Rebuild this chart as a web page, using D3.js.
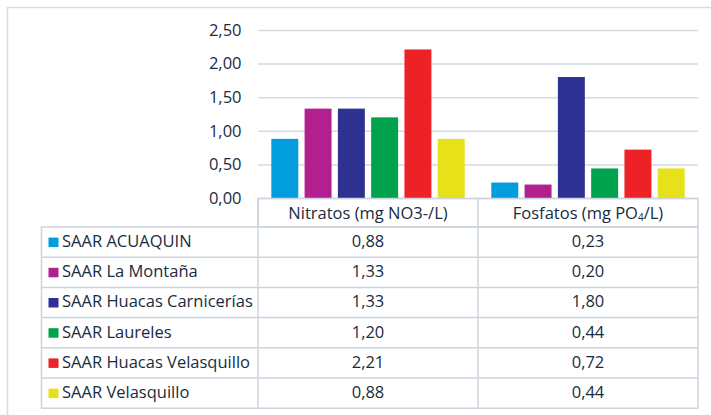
<!DOCTYPE html>
<html>
<head>
<meta charset="utf-8">
<script src="https://cdn.jsdelivr.net/npm/d3@7"></script>
<style>
  html, body { margin: 0; padding: 0; background: #fff; }
  svg { display: block; }
  text { font-family: "Open Sans", Lato, sans-serif; fill: #182c3e; }
</style>
</head>
<body>
<svg id="chart" width="711" height="415"></svg>
<script>
// Parameters measured per station
const categories = ["Nitratos (mg NO3-/L)", "Fosfatos (mg PO₄/L)"];
const series = [
  "SAAR ACUAQUIN",
  "SAAR La Montaña",
  "SAAR Huacas Carnicerías",
  "SAAR Laureles",
  "SAAR Huacas Velasquillo",
  "SAAR Velasquillo"
];
const nitratos = [0.88, 1.33, 1.33, 1.20, 2.21, 0.88];
const fosfatos = [0.23, 0.20, 1.80, 0.44, 0.72, 0.44];
const colors = ["#019ddd", "#b21f8f", "#2e3192", "#00a24d", "#ec2227", "#e7e11a"];
const yTicks = [0, 0.5, 1.0, 1.5, 2.0, 2.5];

const values = [nitratos, fosfatos];
const fmt = v => d3.format(".2f")(v).replace(".", ",");
const textSize = 16.5;

const svg = d3.select("#chart");

// Outer chart frame (open on the right and bottom)
svg.append("path")
  .attr("d", "M7.5,415 V7.5 H711")
  .attr("fill", "none")
  .attr("stroke", "#d5dde5")
  .attr("stroke-width", 1.5);

const plot = { left: 258, right: 698, top: 30, bottom: 198 };

const y = d3.scaleLinear().domain([0, 2.5]).range([plot.bottom, plot.top]);
const x0 = d3.scaleBand().domain(categories).range([plot.left, plot.right]);
const x1 = d3.scaleBand().domain(series).range([0, x0.bandwidth()])
  .paddingInner(0.19).paddingOuter(0.4);

// Gridlines and value axis
const yAxis = d3.axisLeft(y).tickValues(yTicks).tickFormat(fmt)
  .tickSize(-(plot.right - plot.left)).tickPadding(16.5);
const gy = svg.append("g").attr("transform", `translate(${plot.left},0)`).call(yAxis);
gy.select(".domain").remove();
gy.selectAll(".tick line").attr("stroke", "#d3dbe4").attr("stroke-width", 1.5);
gy.selectAll(".tick text")
  .attr("font-size", textSize)
  .attr("font-family", "'Open Sans', Lato, sans-serif")
  .attr("fill", "#182c3e");

// Bars
const groups = svg.append("g").selectAll("g")
  .data(categories)
  .join("g")
  .attr("transform", d => `translate(${x0(d)},0)`);

groups.selectAll("rect")
  .data((c, ci) => series.map((s, si) => ({ s, si, v: values[ci][si] })))
  .join("rect")
  .attr("x", d => x1(d.s))
  .attr("width", x1.bandwidth())
  .attr("y", d => y(d.v))
  .attr("height", d => y(0) - y(d.v))
  .attr("fill", d => colors[d.si]);

// Data table below the plot
const table = { left: 41.5, headerTop: 198.5, top: 227, rowH: 30.2 };
const lineColor = "#ccd5de";
const tg = svg.append("g");
const bottom = table.top + table.rowH * series.length;

// Header cells
tg.append("rect")
  .attr("x", plot.left).attr("y", table.headerTop)
  .attr("width", plot.right - plot.left).attr("height", table.top - table.headerTop)
  .attr("fill", "none").attr("stroke", lineColor).attr("stroke-width", 1.5);
categories.forEach((c, i) => {
  const cx = x0(c) + x0.bandwidth() / 2;
  tg.append("line")
    .attr("x1", x0(c)).attr("x2", x0(c))
    .attr("y1", table.headerTop).attr("y2", bottom)
    .attr("stroke", lineColor).attr("stroke-width", 1.5);
  const t = tg.append("text")
    .attr("x", cx).attr("y", 218.5)
    .attr("text-anchor", "middle").attr("font-size", textSize);
  if (c.includes("₄")) {
    const [a, b] = c.split("₄");
    t.append("tspan").text(a);
    t.append("tspan").text("4").attr("font-size", 10).attr("dy", 2);
    t.append("tspan").text(b).attr("dy", -2);
  } else {
    t.text(c);
  }
});

// Body grid
tg.append("rect")
  .attr("x", table.left).attr("y", table.top)
  .attr("width", plot.right - table.left).attr("height", bottom - table.top)
  .attr("fill", "none").attr("stroke", lineColor).attr("stroke-width", 1.5);
series.forEach((s, i) => {
  const top = table.top + i * table.rowH;
  if (i > 0) {
    tg.append("line")
      .attr("x1", table.left).attr("x2", plot.right)
      .attr("y1", top).attr("y2", top)
      .attr("stroke", lineColor).attr("stroke-width", 1.5);
  }
  const mid = top + table.rowH / 2;
  tg.append("rect")
    .attr("x", 48.5).attr("y", mid - 4.5)
    .attr("width", 10).attr("height", 9.5)
    .attr("fill", colors[i]);
  tg.append("text")
    .attr("x", 62).attr("y", mid + 4.8)
    .attr("font-size", textSize)
    .text(s);
  categories.forEach((c, ci) => {
    tg.append("text")
      .attr("x", x0(c) + x0.bandwidth() / 2).attr("y", mid + 4.8)
      .attr("text-anchor", "middle").attr("font-size", textSize)
      .text(fmt(values[ci][i]));
  });
});
</script>
</body>
</html>
